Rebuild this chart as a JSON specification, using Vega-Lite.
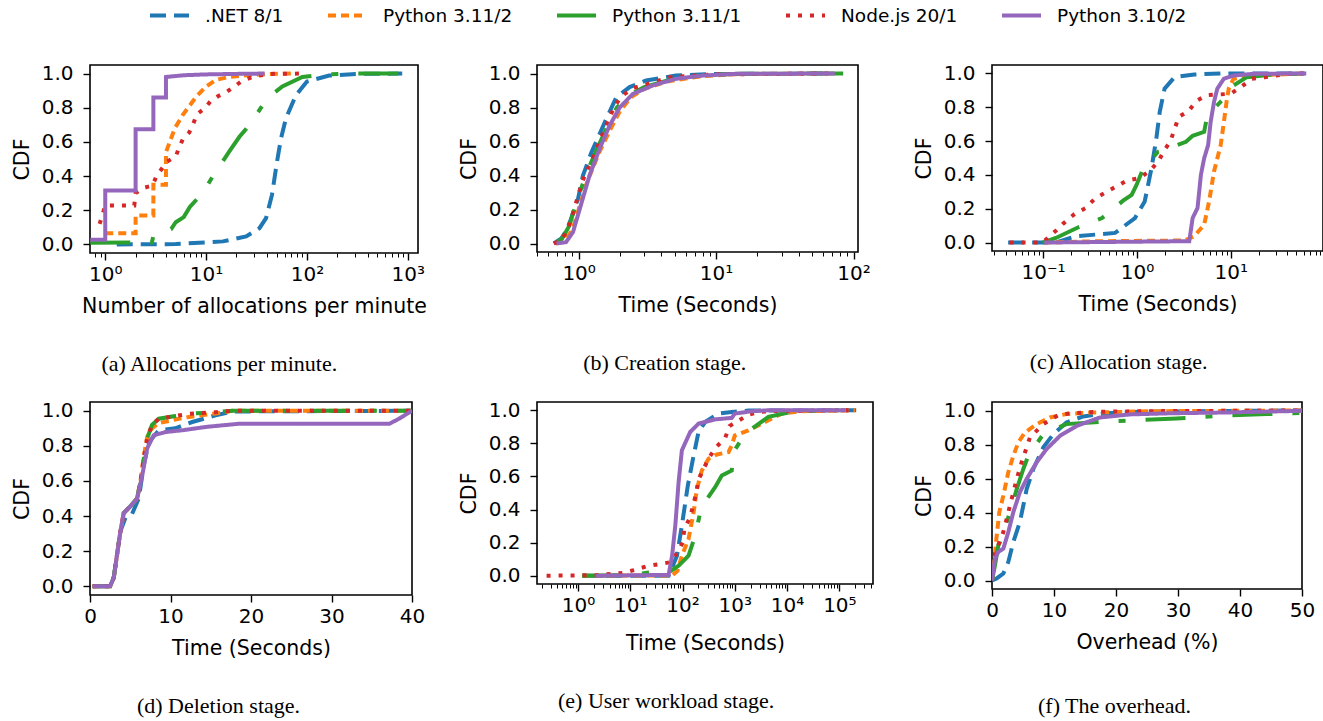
{
"$schema": "https://vega.github.io/schema/vega-lite/v6.json",
"background": "white",
"padding": {"left": 11, "top": -6, "right": 0, "bottom": 0},
"columns": 3,
"align": "each",
"bounds": "flush",
"spacing": {"row": 149, "column": 119},
"resolve": {"scale": {"x": "independent", "y": "independent"}},
"data": {"values": [
{"p":"a","s":".NET 8/1","x":1.3,"y":0},{"p":"a","s":".NET 8/1","x":5,"y":0.002},{"p":"a","s":".NET 8/1","x":14.7,"y":0.018},{"p":"a","s":".NET 8/1","x":25,"y":0.047},{"p":"a","s":".NET 8/1","x":33.8,"y":0.095},{"p":"a","s":".NET 8/1","x":39.3,"y":0.154},{"p":"a","s":".NET 8/1","x":45,"y":0.29},{"p":"a","s":".NET 8/1","x":50.5,"y":0.485},{"p":"a","s":".NET 8/1","x":55.3,"y":0.62},{"p":"a","s":".NET 8/1","x":62,"y":0.739},{"p":"a","s":".NET 8/1","x":78,"y":0.875},{"p":"a","s":".NET 8/1","x":100,"y":0.953},{"p":"a","s":".NET 8/1","x":166,"y":0.988},{"p":"a","s":".NET 8/1","x":305,"y":0.998},{"p":"a","s":".NET 8/1","x":880,"y":1},
{"p":"a","s":"Python 3.11/2","x":1,"y":0.065},{"p":"a","s":"Python 3.11/2","x":2,"y":0.065},{"p":"a","s":"Python 3.11/2","x":2,"y":0.17},{"p":"a","s":"Python 3.11/2","x":3,"y":0.17},{"p":"a","s":"Python 3.11/2","x":3,"y":0.35},{"p":"a","s":"Python 3.11/2","x":4,"y":0.35},{"p":"a","s":"Python 3.11/2","x":4,"y":0.54},{"p":"a","s":"Python 3.11/2","x":4.9,"y":0.68},{"p":"a","s":"Python 3.11/2","x":5.9,"y":0.76},{"p":"a","s":"Python 3.11/2","x":8,"y":0.865},{"p":"a","s":"Python 3.11/2","x":10,"y":0.924},{"p":"a","s":"Python 3.11/2","x":12.5,"y":0.963},{"p":"a","s":"Python 3.11/2","x":17,"y":0.98},{"p":"a","s":"Python 3.11/2","x":25,"y":0.99},{"p":"a","s":"Python 3.11/2","x":40,"y":0.997},{"p":"a","s":"Python 3.11/2","x":73,"y":1},
{"p":"a","s":"Python 3.11/1","x":0.71,"y":0.01},{"p":"a","s":"Python 3.11/1","x":2.9,"y":0.012},{"p":"a","s":"Python 3.11/1","x":3,"y":0.05},{"p":"a","s":"Python 3.11/1","x":4.5,"y":0.09},{"p":"a","s":"Python 3.11/1","x":5,"y":0.13},{"p":"a","s":"Python 3.11/1","x":6,"y":0.16},{"p":"a","s":"Python 3.11/1","x":6.9,"y":0.22},{"p":"a","s":"Python 3.11/1","x":9.2,"y":0.3},{"p":"a","s":"Python 3.11/1","x":11.7,"y":0.4},{"p":"a","s":"Python 3.11/1","x":14,"y":0.47},{"p":"a","s":"Python 3.11/1","x":17,"y":0.544},{"p":"a","s":"Python 3.11/1","x":21.4,"y":0.63},{"p":"a","s":"Python 3.11/1","x":27.9,"y":0.71},{"p":"a","s":"Python 3.11/1","x":35,"y":0.8},{"p":"a","s":"Python 3.11/1","x":42.4,"y":0.866},{"p":"a","s":"Python 3.11/1","x":57,"y":0.924},{"p":"a","s":"Python 3.11/1","x":90,"y":0.98},{"p":"a","s":"Python 3.11/1","x":150,"y":0.995},{"p":"a","s":"Python 3.11/1","x":300,"y":1},{"p":"a","s":"Python 3.11/1","x":880,"y":1},
{"p":"a","s":"Node.js 20/1","x":0.88,"y":0.12},{"p":"a","s":"Node.js 20/1","x":1,"y":0.228},{"p":"a","s":"Node.js 20/1","x":1.94,"y":0.228},{"p":"a","s":"Node.js 20/1","x":2,"y":0.3},{"p":"a","s":"Node.js 20/1","x":2.37,"y":0.33},{"p":"a","s":"Node.js 20/1","x":2.94,"y":0.345},{"p":"a","s":"Node.js 20/1","x":3.22,"y":0.4},{"p":"a","s":"Node.js 20/1","x":4.1,"y":0.485},{"p":"a","s":"Node.js 20/1","x":5,"y":0.515},{"p":"a","s":"Node.js 20/1","x":5.4,"y":0.567},{"p":"a","s":"Node.js 20/1","x":5.9,"y":0.618},{"p":"a","s":"Node.js 20/1","x":6.8,"y":0.655},{"p":"a","s":"Node.js 20/1","x":7.5,"y":0.71},{"p":"a","s":"Node.js 20/1","x":8.1,"y":0.762},{"p":"a","s":"Node.js 20/1","x":9.7,"y":0.797},{"p":"a","s":"Node.js 20/1","x":11,"y":0.836},{"p":"a","s":"Node.js 20/1","x":13.1,"y":0.867},{"p":"a","s":"Node.js 20/1","x":15.8,"y":0.89},{"p":"a","s":"Node.js 20/1","x":19.1,"y":0.924},{"p":"a","s":"Node.js 20/1","x":22.2,"y":0.953},{"p":"a","s":"Node.js 20/1","x":30,"y":0.985},{"p":"a","s":"Node.js 20/1","x":44,"y":0.998},{"p":"a","s":"Node.js 20/1","x":100,"y":1},
{"p":"a","s":"Python 3.10/2","x":0.71,"y":0.027},{"p":"a","s":"Python 3.10/2","x":1,"y":0.027},{"p":"a","s":"Python 3.10/2","x":1,"y":0.316},{"p":"a","s":"Python 3.10/2","x":2,"y":0.316},{"p":"a","s":"Python 3.10/2","x":2,"y":0.674},{"p":"a","s":"Python 3.10/2","x":3,"y":0.674},{"p":"a","s":"Python 3.10/2","x":3,"y":0.86},{"p":"a","s":"Python 3.10/2","x":4,"y":0.86},{"p":"a","s":"Python 3.10/2","x":4,"y":0.98},{"p":"a","s":"Python 3.10/2","x":6,"y":0.99},{"p":"a","s":"Python 3.10/2","x":10,"y":0.995},{"p":"a","s":"Python 3.10/2","x":20,"y":0.998},{"p":"a","s":"Python 3.10/2","x":38,"y":1},

{"p":"b","s":".NET 8/1","x":0.66,"y":0},{"p":"b","s":".NET 8/1","x":0.75,"y":0.03},{"p":"b","s":".NET 8/1","x":0.82,"y":0.08},{"p":"b","s":".NET 8/1","x":0.88,"y":0.145},{"p":"b","s":".NET 8/1","x":0.99,"y":0.263},{"p":"b","s":".NET 8/1","x":1.075,"y":0.4},{"p":"b","s":".NET 8/1","x":1.24,"y":0.537},{"p":"b","s":".NET 8/1","x":1.59,"y":0.733},{"p":"b","s":".NET 8/1","x":1.88,"y":0.86},{"p":"b","s":".NET 8/1","x":2.35,"y":0.92},{"p":"b","s":".NET 8/1","x":3.1,"y":0.959},{"p":"b","s":".NET 8/1","x":5.1,"y":0.988},{"p":"b","s":".NET 8/1","x":9,"y":0.997},{"p":"b","s":".NET 8/1","x":60,"y":1},
{"p":"b","s":"Python 3.11/2","x":0.68,"y":0},{"p":"b","s":"Python 3.11/2","x":0.8,"y":0.02},{"p":"b","s":"Python 3.11/2","x":0.9,"y":0.08},{"p":"b","s":"Python 3.11/2","x":1,"y":0.2},{"p":"b","s":"Python 3.11/2","x":1.15,"y":0.36},{"p":"b","s":"Python 3.11/2","x":1.4,"y":0.53},{"p":"b","s":"Python 3.11/2","x":1.7,"y":0.67},{"p":"b","s":"Python 3.11/2","x":2,"y":0.78},{"p":"b","s":"Python 3.11/2","x":2.4,"y":0.86},{"p":"b","s":"Python 3.11/2","x":3,"y":0.91},{"p":"b","s":"Python 3.11/2","x":4.5,"y":0.955},{"p":"b","s":"Python 3.11/2","x":8,"y":0.985},{"p":"b","s":"Python 3.11/2","x":15,"y":0.997},{"p":"b","s":"Python 3.11/2","x":60,"y":1},
{"p":"b","s":"Python 3.11/1","x":0.68,"y":0},{"p":"b","s":"Python 3.11/1","x":0.76,"y":0.03},{"p":"b","s":"Python 3.11/1","x":0.85,"y":0.1},{"p":"b","s":"Python 3.11/1","x":0.93,"y":0.2},{"p":"b","s":"Python 3.11/1","x":1.05,"y":0.33},{"p":"b","s":"Python 3.11/1","x":1.15,"y":0.42},{"p":"b","s":"Python 3.11/1","x":1.35,"y":0.55},{"p":"b","s":"Python 3.11/1","x":1.6,"y":0.68},{"p":"b","s":"Python 3.11/1","x":1.9,"y":0.8},{"p":"b","s":"Python 3.11/1","x":2.3,"y":0.87},{"p":"b","s":"Python 3.11/1","x":3,"y":0.92},{"p":"b","s":"Python 3.11/1","x":4.5,"y":0.96},{"p":"b","s":"Python 3.11/1","x":8,"y":0.99},{"p":"b","s":"Python 3.11/1","x":15,"y":0.998},{"p":"b","s":"Python 3.11/1","x":84,"y":1},
{"p":"b","s":"Node.js 20/1","x":0.66,"y":0},{"p":"b","s":"Node.js 20/1","x":0.75,"y":0.02},{"p":"b","s":"Node.js 20/1","x":0.83,"y":0.08},{"p":"b","s":"Node.js 20/1","x":0.91,"y":0.18},{"p":"b","s":"Node.js 20/1","x":1.03,"y":0.325},{"p":"b","s":"Node.js 20/1","x":1.1,"y":0.394},{"p":"b","s":"Node.js 20/1","x":1.33,"y":0.537},{"p":"b","s":"Node.js 20/1","x":1.42,"y":0.6},{"p":"b","s":"Node.js 20/1","x":1.55,"y":0.675},{"p":"b","s":"Node.js 20/1","x":1.83,"y":0.81},{"p":"b","s":"Node.js 20/1","x":2.08,"y":0.87},{"p":"b","s":"Node.js 20/1","x":2.48,"y":0.914},{"p":"b","s":"Node.js 20/1","x":3.02,"y":0.933},{"p":"b","s":"Node.js 20/1","x":4.6,"y":0.978},{"p":"b","s":"Node.js 20/1","x":10,"y":0.995},{"p":"b","s":"Node.js 20/1","x":70,"y":1},
{"p":"b","s":"Python 3.10/2","x":0.69,"y":0},{"p":"b","s":"Python 3.10/2","x":0.81,"y":0.008},{"p":"b","s":"Python 3.10/2","x":0.91,"y":0.067},{"p":"b","s":"Python 3.10/2","x":1.02,"y":0.204},{"p":"b","s":"Python 3.10/2","x":1.2,"y":0.4},{"p":"b","s":"Python 3.10/2","x":1.42,"y":0.557},{"p":"b","s":"Python 3.10/2","x":1.68,"y":0.694},{"p":"b","s":"Python 3.10/2","x":1.99,"y":0.8},{"p":"b","s":"Python 3.10/2","x":2.48,"y":0.88},{"p":"b","s":"Python 3.10/2","x":3.47,"y":0.93},{"p":"b","s":"Python 3.10/2","x":5.1,"y":0.969},{"p":"b","s":"Python 3.10/2","x":8,"y":0.988},{"p":"b","s":"Python 3.10/2","x":14,"y":0.998},{"p":"b","s":"Python 3.10/2","x":73,"y":1},

{"p":"c","s":".NET 8/1","x":0.0425,"y":0},{"p":"c","s":".NET 8/1","x":0.137,"y":0},{"p":"c","s":".NET 8/1","x":0.222,"y":0.037},{"p":"c","s":".NET 8/1","x":0.586,"y":0.057},{"p":"c","s":".NET 8/1","x":0.953,"y":0.145},{"p":"c","s":".NET 8/1","x":1.21,"y":0.243},{"p":"c","s":".NET 8/1","x":1.43,"y":0.44},{"p":"c","s":".NET 8/1","x":1.61,"y":0.616},{"p":"c","s":".NET 8/1","x":1.75,"y":0.773},{"p":"c","s":".NET 8/1","x":1.97,"y":0.91},{"p":"c","s":".NET 8/1","x":2.51,"y":0.978},{"p":"c","s":".NET 8/1","x":4.08,"y":0.994},{"p":"c","s":".NET 8/1","x":7.8,"y":1},{"p":"c","s":".NET 8/1","x":61,"y":1},
{"p":"c","s":"Python 3.11/2","x":0.1,"y":0},{"p":"c","s":"Python 3.11/2","x":0.4,"y":0.008},{"p":"c","s":"Python 3.11/2","x":3.2,"y":0.012},{"p":"c","s":"Python 3.11/2","x":4.08,"y":0.037},{"p":"c","s":"Python 3.11/2","x":5.2,"y":0.106},{"p":"c","s":"Python 3.11/2","x":5.87,"y":0.243},{"p":"c","s":"Python 3.11/2","x":6.62,"y":0.42},{"p":"c","s":"Python 3.11/2","x":7.8,"y":0.576},{"p":"c","s":"Python 3.11/2","x":8.44,"y":0.714},{"p":"c","s":"Python 3.11/2","x":9,"y":0.831},{"p":"c","s":"Python 3.11/2","x":9.5,"y":0.91},{"p":"c","s":"Python 3.11/2","x":10.7,"y":0.969},{"p":"c","s":"Python 3.11/2","x":17.5,"y":0.988},{"p":"c","s":"Python 3.11/2","x":61,"y":1},
{"p":"c","s":"Python 3.11/1","x":0.099,"y":0},{"p":"c","s":"Python 3.11/1","x":0.137,"y":0.027},{"p":"c","s":"Python 3.11/1","x":0.241,"y":0.092},{"p":"c","s":"Python 3.11/1","x":0.425,"y":0.145},{"p":"c","s":"Python 3.11/1","x":0.718,"y":0.249},{"p":"c","s":"Python 3.11/1","x":0.879,"y":0.282},{"p":"c","s":"Python 3.11/1","x":0.99,"y":0.341},{"p":"c","s":"Python 3.11/1","x":1.17,"y":0.44},{"p":"c","s":"Python 3.11/1","x":1.68,"y":0.537},{"p":"c","s":"Python 3.11/1","x":1.97,"y":0.547},{"p":"c","s":"Python 3.11/1","x":3.33,"y":0.596},{"p":"c","s":"Python 3.11/1","x":3.92,"y":0.631},{"p":"c","s":"Python 3.11/1","x":5.2,"y":0.655},{"p":"c","s":"Python 3.11/1","x":5.63,"y":0.753},{"p":"c","s":"Python 3.11/1","x":8.4,"y":0.851},{"p":"c","s":"Python 3.11/1","x":10.7,"y":0.929},{"p":"c","s":"Python 3.11/1","x":14.8,"y":0.978},{"p":"c","s":"Python 3.11/1","x":26,"y":0.992},{"p":"c","s":"Python 3.11/1","x":60,"y":1},
{"p":"c","s":"Node.js 20/1","x":0.044,"y":0},{"p":"c","s":"Node.js 20/1","x":0.099,"y":0},{"p":"c","s":"Node.js 20/1","x":0.137,"y":0.07},{"p":"c","s":"Node.js 20/1","x":0.164,"y":0.112},{"p":"c","s":"Node.js 20/1","x":0.217,"y":0.169},{"p":"c","s":"Node.js 20/1","x":0.284,"y":0.204},{"p":"c","s":"Node.js 20/1","x":0.356,"y":0.259},{"p":"c","s":"Node.js 20/1","x":0.46,"y":0.296},{"p":"c","s":"Node.js 20/1","x":0.6,"y":0.331},{"p":"c","s":"Node.js 20/1","x":0.78,"y":0.367},{"p":"c","s":"Node.js 20/1","x":1.06,"y":0.38},{"p":"c","s":"Node.js 20/1","x":1.37,"y":0.424},{"p":"c","s":"Node.js 20/1","x":1.68,"y":0.478},{"p":"c","s":"Node.js 20/1","x":1.92,"y":0.537},{"p":"c","s":"Node.js 20/1","x":2.28,"y":0.602},{"p":"c","s":"Node.js 20/1","x":2.51,"y":0.669},{"p":"c","s":"Node.js 20/1","x":2.79,"y":0.743},{"p":"c","s":"Node.js 20/1","x":3.56,"y":0.778},{"p":"c","s":"Node.js 20/1","x":4.25,"y":0.835},{"p":"c","s":"Node.js 20/1","x":5.5,"y":0.871},{"p":"c","s":"Node.js 20/1","x":10,"y":0.88},{"p":"c","s":"Node.js 20/1","x":13.2,"y":0.925},{"p":"c","s":"Node.js 20/1","x":16.8,"y":0.969},{"p":"c","s":"Node.js 20/1","x":23,"y":0.978},{"p":"c","s":"Node.js 20/1","x":40,"y":0.998},{"p":"c","s":"Node.js 20/1","x":60,"y":1},
{"p":"c","s":"Python 3.10/2","x":0.103,"y":0},{"p":"c","s":"Python 3.10/2","x":3.61,"y":0.008},{"p":"c","s":"Python 3.10/2","x":3.92,"y":0.145},{"p":"c","s":"Python 3.10/2","x":4.42,"y":0.204},{"p":"c","s":"Python 3.10/2","x":4.8,"y":0.4},{"p":"c","s":"Python 3.10/2","x":5.2,"y":0.498},{"p":"c","s":"Python 3.10/2","x":5.73,"y":0.576},{"p":"c","s":"Python 3.10/2","x":6.1,"y":0.714},{"p":"c","s":"Python 3.10/2","x":6.62,"y":0.831},{"p":"c","s":"Python 3.10/2","x":7.18,"y":0.91},{"p":"c","s":"Python 3.10/2","x":8.44,"y":0.969},{"p":"c","s":"Python 3.10/2","x":10.7,"y":0.988},{"p":"c","s":"Python 3.10/2","x":17.5,"y":0.998},{"p":"c","s":"Python 3.10/2","x":63.6,"y":1},

{"p":"d","s":".NET 8/1","x":0.33,"y":0},{"p":"d","s":".NET 8/1","x":2.5,"y":0},{"p":"d","s":".NET 8/1","x":2.95,"y":0.049},{"p":"d","s":".NET 8/1","x":3.36,"y":0.18},{"p":"d","s":".NET 8/1","x":3.78,"y":0.313},{"p":"d","s":".NET 8/1","x":4.4,"y":0.39},{"p":"d","s":".NET 8/1","x":5.2,"y":0.41},{"p":"d","s":".NET 8/1","x":6.06,"y":0.5},{"p":"d","s":".NET 8/1","x":6.68,"y":0.69},{"p":"d","s":".NET 8/1","x":7.3,"y":0.82},{"p":"d","s":".NET 8/1","x":8.55,"y":0.889},{"p":"d","s":".NET 8/1","x":10.6,"y":0.9},{"p":"d","s":".NET 8/1","x":12.7,"y":0.936},{"p":"d","s":".NET 8/1","x":15.6,"y":0.974},{"p":"d","s":".NET 8/1","x":17.7,"y":0.996},{"p":"d","s":".NET 8/1","x":39.9,"y":1},
{"p":"d","s":"Python 3.11/2","x":0.33,"y":0},{"p":"d","s":"Python 3.11/2","x":2.5,"y":0},{"p":"d","s":"Python 3.11/2","x":2.95,"y":0.049},{"p":"d","s":"Python 3.11/2","x":3.36,"y":0.18},{"p":"d","s":"Python 3.11/2","x":3.78,"y":0.313},{"p":"d","s":"Python 3.11/2","x":4.19,"y":0.417},{"p":"d","s":"Python 3.11/2","x":5,"y":0.455},{"p":"d","s":"Python 3.11/2","x":5.85,"y":0.5},{"p":"d","s":"Python 3.11/2","x":6.27,"y":0.6},{"p":"d","s":"Python 3.11/2","x":6.68,"y":0.74},{"p":"d","s":"Python 3.11/2","x":7.1,"y":0.85},{"p":"d","s":"Python 3.11/2","x":7.7,"y":0.9},{"p":"d","s":"Python 3.11/2","x":8.55,"y":0.93},{"p":"d","s":"Python 3.11/2","x":10.6,"y":0.95},{"p":"d","s":"Python 3.11/2","x":12.3,"y":0.965},{"p":"d","s":"Python 3.11/2","x":15.6,"y":0.985},{"p":"d","s":"Python 3.11/2","x":17.7,"y":1},{"p":"d","s":"Python 3.11/2","x":39.9,"y":1},
{"p":"d","s":"Python 3.11/1","x":0.33,"y":0},{"p":"d","s":"Python 3.11/1","x":2.5,"y":0},{"p":"d","s":"Python 3.11/1","x":2.95,"y":0.049},{"p":"d","s":"Python 3.11/1","x":3.36,"y":0.18},{"p":"d","s":"Python 3.11/1","x":3.78,"y":0.313},{"p":"d","s":"Python 3.11/1","x":4.19,"y":0.417},{"p":"d","s":"Python 3.11/1","x":5,"y":0.455},{"p":"d","s":"Python 3.11/1","x":5.85,"y":0.5},{"p":"d","s":"Python 3.11/1","x":6.27,"y":0.596},{"p":"d","s":"Python 3.11/1","x":6.68,"y":0.728},{"p":"d","s":"Python 3.11/1","x":7.1,"y":0.842},{"p":"d","s":"Python 3.11/1","x":7.7,"y":0.92},{"p":"d","s":"Python 3.11/1","x":8.55,"y":0.955},{"p":"d","s":"Python 3.11/1","x":10.6,"y":0.97},{"p":"d","s":"Python 3.11/1","x":12.3,"y":0.983},{"p":"d","s":"Python 3.11/1","x":15.6,"y":0.992},{"p":"d","s":"Python 3.11/1","x":17.7,"y":1},{"p":"d","s":"Python 3.11/1","x":39.9,"y":1},
{"p":"d","s":"Node.js 20/1","x":0.33,"y":0},{"p":"d","s":"Node.js 20/1","x":2.5,"y":0},{"p":"d","s":"Node.js 20/1","x":2.95,"y":0.049},{"p":"d","s":"Node.js 20/1","x":3.36,"y":0.18},{"p":"d","s":"Node.js 20/1","x":3.78,"y":0.313},{"p":"d","s":"Node.js 20/1","x":4.19,"y":0.417},{"p":"d","s":"Node.js 20/1","x":5,"y":0.455},{"p":"d","s":"Node.js 20/1","x":5.85,"y":0.5},{"p":"d","s":"Node.js 20/1","x":6.27,"y":0.596},{"p":"d","s":"Node.js 20/1","x":6.68,"y":0.728},{"p":"d","s":"Node.js 20/1","x":7.1,"y":0.842},{"p":"d","s":"Node.js 20/1","x":7.7,"y":0.92},{"p":"d","s":"Node.js 20/1","x":8.55,"y":0.955},{"p":"d","s":"Node.js 20/1","x":10.6,"y":0.97},{"p":"d","s":"Node.js 20/1","x":12.3,"y":0.983},{"p":"d","s":"Node.js 20/1","x":15.6,"y":0.992},{"p":"d","s":"Node.js 20/1","x":17.7,"y":1},{"p":"d","s":"Node.js 20/1","x":39.9,"y":1},
{"p":"d","s":"Python 3.10/2","x":0.33,"y":0},{"p":"d","s":"Python 3.10/2","x":2.5,"y":0},{"p":"d","s":"Python 3.10/2","x":2.95,"y":0.049},{"p":"d","s":"Python 3.10/2","x":3.36,"y":0.18},{"p":"d","s":"Python 3.10/2","x":3.78,"y":0.313},{"p":"d","s":"Python 3.10/2","x":4.19,"y":0.417},{"p":"d","s":"Python 3.10/2","x":5,"y":0.455},{"p":"d","s":"Python 3.10/2","x":5.85,"y":0.5},{"p":"d","s":"Python 3.10/2","x":6.5,"y":0.634},{"p":"d","s":"Python 3.10/2","x":7.1,"y":0.785},{"p":"d","s":"Python 3.10/2","x":7.9,"y":0.86},{"p":"d","s":"Python 3.10/2","x":9.4,"y":0.879},{"p":"d","s":"Python 3.10/2","x":11.5,"y":0.889},{"p":"d","s":"Python 3.10/2","x":14.4,"y":0.908},{"p":"d","s":"Python 3.10/2","x":18.5,"y":0.926},{"p":"d","s":"Python 3.10/2","x":37.2,"y":0.926},{"p":"d","s":"Python 3.10/2","x":38.4,"y":0.955},{"p":"d","s":"Python 3.10/2","x":40,"y":1},

{"p":"e","s":".NET 8/1","x":1.2,"y":0},{"p":"e","s":".NET 8/1","x":54,"y":0},{"p":"e","s":".NET 8/1","x":78,"y":0.12},{"p":"e","s":".NET 8/1","x":97,"y":0.303},{"p":"e","s":".NET 8/1","x":126,"y":0.545},{"p":"e","s":".NET 8/1","x":163,"y":0.727},{"p":"e","s":".NET 8/1","x":202,"y":0.869},{"p":"e","s":".NET 8/1","x":270,"y":0.929},{"p":"e","s":".NET 8/1","x":488,"y":0.98},{"p":"e","s":".NET 8/1","x":873,"y":0.99},{"p":"e","s":".NET 8/1","x":1820,"y":0.998},{"p":"e","s":".NET 8/1","x":210000,"y":1},
{"p":"e","s":"Python 3.11/2","x":1.2,"y":0},{"p":"e","s":"Python 3.11/2","x":63,"y":0.002},{"p":"e","s":"Python 3.11/2","x":80,"y":0.03},{"p":"e","s":"Python 3.11/2","x":97,"y":0.12},{"p":"e","s":"Python 3.11/2","x":130,"y":0.222},{"p":"e","s":"Python 3.11/2","x":163,"y":0.384},{"p":"e","s":"Python 3.11/2","x":188,"y":0.525},{"p":"e","s":"Python 3.11/2","x":234,"y":0.636},{"p":"e","s":"Python 3.11/2","x":314,"y":0.707},{"p":"e","s":"Python 3.11/2","x":453,"y":0.733},{"p":"e","s":"Python 3.11/2","x":758,"y":0.747},{"p":"e","s":"Python 3.11/2","x":873,"y":0.788},{"p":"e","s":"Python 3.11/2","x":1000,"y":0.848},{"p":"e","s":"Python 3.11/2","x":1820,"y":0.879},{"p":"e","s":"Python 3.11/2","x":3800,"y":0.929},{"p":"e","s":"Python 3.11/2","x":7900,"y":0.98},{"p":"e","s":"Python 3.11/2","x":19000,"y":0.994},{"p":"e","s":"Python 3.11/2","x":200000,"y":1},
{"p":"e","s":"Python 3.11/1","x":1.2,"y":0},{"p":"e","s":"Python 3.11/1","x":10,"y":0.004},{"p":"e","s":"Python 3.11/1","x":22.4,"y":0.02},{"p":"e","s":"Python 3.11/1","x":60,"y":0.03},{"p":"e","s":"Python 3.11/1","x":84,"y":0.06},{"p":"e","s":"Python 3.11/1","x":130,"y":0.121},{"p":"e","s":"Python 3.11/1","x":174,"y":0.242},{"p":"e","s":"Python 3.11/1","x":218,"y":0.384},{"p":"e","s":"Python 3.11/1","x":252,"y":0.434},{"p":"e","s":"Python 3.11/1","x":420,"y":0.535},{"p":"e","s":"Python 3.11/1","x":563,"y":0.606},{"p":"e","s":"Python 3.11/1","x":873,"y":0.636},{"p":"e","s":"Python 3.11/1","x":937,"y":0.747},{"p":"e","s":"Python 3.11/1","x":1580,"y":0.859},{"p":"e","s":"Python 3.11/1","x":4380,"y":0.96},{"p":"e","s":"Python 3.11/1","x":10600,"y":0.986},{"p":"e","s":"Python 3.11/1","x":25700,"y":0.996},{"p":"e","s":"Python 3.11/1","x":100000,"y":1},
{"p":"e","s":"Node.js 20/1","x":0.25,"y":0},{"p":"e","s":"Node.js 20/1","x":2.1,"y":0.003},{"p":"e","s":"Node.js 20/1","x":6.9,"y":0.016},{"p":"e","s":"Node.js 20/1","x":12.5,"y":0.036},{"p":"e","s":"Node.js 20/1","x":21.8,"y":0.06},{"p":"e","s":"Node.js 20/1","x":37.4,"y":0.071},{"p":"e","s":"Node.js 20/1","x":55,"y":0.08},{"p":"e","s":"Node.js 20/1","x":80,"y":0.14},{"p":"e","s":"Node.js 20/1","x":100,"y":0.2},{"p":"e","s":"Node.js 20/1","x":109,"y":0.287},{"p":"e","s":"Node.js 20/1","x":140,"y":0.354},{"p":"e","s":"Node.js 20/1","x":182,"y":0.499},{"p":"e","s":"Node.js 20/1","x":202,"y":0.582},{"p":"e","s":"Node.js 20/1","x":252,"y":0.646},{"p":"e","s":"Node.js 20/1","x":330,"y":0.72},{"p":"e","s":"Node.js 20/1","x":440,"y":0.778},{"p":"e","s":"Node.js 20/1","x":653,"y":0.832},{"p":"e","s":"Node.js 20/1","x":790,"y":0.905},{"p":"e","s":"Node.js 20/1","x":1210,"y":0.939},{"p":"e","s":"Node.js 20/1","x":1820,"y":0.974},{"p":"e","s":"Node.js 20/1","x":3030,"y":0.99},{"p":"e","s":"Node.js 20/1","x":5900,"y":0.996},{"p":"e","s":"Node.js 20/1","x":150000,"y":1},
{"p":"e","s":"Python 3.10/2","x":2.15,"y":0},{"p":"e","s":"Python 3.10/2","x":54,"y":0.005},{"p":"e","s":"Python 3.10/2","x":63,"y":0.12},{"p":"e","s":"Python 3.10/2","x":72.6,"y":0.303},{"p":"e","s":"Python 3.10/2","x":84,"y":0.566},{"p":"e","s":"Python 3.10/2","x":97,"y":0.758},{"p":"e","s":"Python 3.10/2","x":140,"y":0.869},{"p":"e","s":"Python 3.10/2","x":202,"y":0.919},{"p":"e","s":"Python 3.10/2","x":420,"y":0.945},{"p":"e","s":"Python 3.10/2","x":873,"y":0.954},{"p":"e","s":"Python 3.10/2","x":1000,"y":0.98},{"p":"e","s":"Python 3.10/2","x":2100,"y":0.994},{"p":"e","s":"Python 3.10/2","x":4380,"y":1},{"p":"e","s":"Python 3.10/2","x":130000,"y":1},

{"p":"f","s":".NET 8/1","x":0,"y":0},{"p":"f","s":".NET 8/1","x":0.75,"y":0.012},{"p":"f","s":".NET 8/1","x":1.83,"y":0.041},{"p":"f","s":".NET 8/1","x":2.63,"y":0.109},{"p":"f","s":".NET 8/1","x":3.44,"y":0.227},{"p":"f","s":".NET 8/1","x":4.5,"y":0.344},{"p":"f","s":".NET 8/1","x":5.6,"y":0.539},{"p":"f","s":".NET 8/1","x":6.67,"y":0.656},{"p":"f","s":".NET 8/1","x":8.28,"y":0.783},{"p":"f","s":".NET 8/1","x":9.9,"y":0.861},{"p":"f","s":".NET 8/1","x":12,"y":0.93},{"p":"f","s":".NET 8/1","x":14.7,"y":0.965},{"p":"f","s":".NET 8/1","x":18.5,"y":0.984},{"p":"f","s":".NET 8/1","x":23.9,"y":0.992},{"p":"f","s":".NET 8/1","x":31.9,"y":0.996},{"p":"f","s":".NET 8/1","x":50,"y":1},
{"p":"f","s":"Python 3.11/2","x":0,"y":0},{"p":"f","s":"Python 3.11/2","x":0.32,"y":0.09},{"p":"f","s":"Python 3.11/2","x":0.65,"y":0.227},{"p":"f","s":"Python 3.11/2","x":1.18,"y":0.402},{"p":"f","s":"Python 3.11/2","x":1.83,"y":0.5},{"p":"f","s":"Python 3.11/2","x":2.63,"y":0.637},{"p":"f","s":"Python 3.11/2","x":3.44,"y":0.734},{"p":"f","s":"Python 3.11/2","x":4.25,"y":0.8125},{"p":"f","s":"Python 3.11/2","x":5.32,"y":0.871},{"p":"f","s":"Python 3.11/2","x":7.2,"y":0.92},{"p":"f","s":"Python 3.11/2","x":9.35,"y":0.959},{"p":"f","s":"Python 3.11/2","x":12,"y":0.979},{"p":"f","s":"Python 3.11/2","x":15.8,"y":0.988},{"p":"f","s":"Python 3.11/2","x":26.6,"y":0.996},{"p":"f","s":"Python 3.11/2","x":50,"y":1},
{"p":"f","s":"Python 3.11/1","x":0,"y":0},{"p":"f","s":"Python 3.11/1","x":0.48,"y":0.09},{"p":"f","s":"Python 3.11/1","x":1.02,"y":0.207},{"p":"f","s":"Python 3.11/1","x":1.29,"y":0.227},{"p":"f","s":"Python 3.11/1","x":2.9,"y":0.402},{"p":"f","s":"Python 3.11/1","x":4,"y":0.539},{"p":"f","s":"Python 3.11/1","x":5.05,"y":0.656},{"p":"f","s":"Python 3.11/1","x":5.86,"y":0.734},{"p":"f","s":"Python 3.11/1","x":8.28,"y":0.861},{"p":"f","s":"Python 3.11/1","x":12,"y":0.92},{"p":"f","s":"Python 3.11/1","x":18,"y":0.934},{"p":"f","s":"Python 3.11/1","x":22.3,"y":0.941},{"p":"f","s":"Python 3.11/1","x":29.8,"y":0.953},{"p":"f","s":"Python 3.11/1","x":36.8,"y":0.969},{"p":"f","s":"Python 3.11/1","x":44.3,"y":0.979},{"p":"f","s":"Python 3.11/1","x":50,"y":0.985},
{"p":"f","s":"Node.js 20/1","x":0,"y":0},{"p":"f","s":"Node.js 20/1","x":0.48,"y":0.158},{"p":"f","s":"Node.js 20/1","x":1.83,"y":0.285},{"p":"f","s":"Node.js 20/1","x":3.17,"y":0.48},{"p":"f","s":"Node.js 20/1","x":4,"y":0.598},{"p":"f","s":"Node.js 20/1","x":4.78,"y":0.695},{"p":"f","s":"Node.js 20/1","x":6.13,"y":0.842},{"p":"f","s":"Node.js 20/1","x":8.28,"y":0.92},{"p":"f","s":"Node.js 20/1","x":10.7,"y":0.973},{"p":"f","s":"Node.js 20/1","x":12.85,"y":0.984},{"p":"f","s":"Node.js 20/1","x":16.9,"y":0.992},{"p":"f","s":"Node.js 20/1","x":24.4,"y":0.996},{"p":"f","s":"Node.js 20/1","x":50,"y":1},
{"p":"f","s":"Python 3.10/2","x":0,"y":0},{"p":"f","s":"Python 3.10/2","x":0.48,"y":0.129},{"p":"f","s":"Python 3.10/2","x":1.02,"y":0.168},{"p":"f","s":"Python 3.10/2","x":1.83,"y":0.1875},{"p":"f","s":"Python 3.10/2","x":2.63,"y":0.285},{"p":"f","s":"Python 3.10/2","x":3.44,"y":0.402},{"p":"f","s":"Python 3.10/2","x":4.5,"y":0.52},{"p":"f","s":"Python 3.10/2","x":5.6,"y":0.598},{"p":"f","s":"Python 3.10/2","x":7.2,"y":0.695},{"p":"f","s":"Python 3.10/2","x":8.8,"y":0.773},{"p":"f","s":"Python 3.10/2","x":11,"y":0.852},{"p":"f","s":"Python 3.10/2","x":13.7,"y":0.91},{"p":"f","s":"Python 3.10/2","x":17.4,"y":0.959},{"p":"f","s":"Python 3.10/2","x":22.3,"y":0.977},{"p":"f","s":"Python 3.10/2","x":29.2,"y":0.984},{"p":"f","s":"Python 3.10/2","x":37.3,"y":0.988},{"p":"f","s":"Python 3.10/2","x":50,"y":0.998}
]},
"concat": [
{"width": 328, "height": 188, "transform": [{"filter": "datum.p == 'a'"}], "title": "(a) Allocations per minute.",
 "mark": {"type": "line", "clip": true},
 "encoding": {
  "x": {"field": "x", "type": "quantitative", "scale": {"type": "log", "domain": [0.706, 1262], "nice": false},
        "axis": {"title": "Number of allocations per minute", "values": [0.8,0.9,1,2,3,4,5,6,7,8,9,10,20,30,40,50,60,70,80,90,100,200,300,400,500,600,700,800,900,1000],
                 "labelExpr": "abs(log(datum.value)/LN10 - round(log(datum.value)/LN10)) < 0.001 ? '10' + {'-1':'⁻¹','0':'⁰','1':'¹','2':'²','3':'³','4':'⁴','5':'⁵'}['' + round(log(datum.value)/LN10)] : ''",
                 "tickSize": {"condition": {"test": "abs(log(datum.value)/LN10 - round(log(datum.value)/LN10)) < 0.001", "value": 7}, "value": 4},
                 "tickWidth": {"condition": {"test": "abs(log(datum.value)/LN10 - round(log(datum.value)/LN10)) < 0.001", "value": 1.4}, "value": 1}}},
  "y": {"field": "y", "type": "quantitative", "scale": {"domain": [-0.05, 1.05], "nice": false, "zero": false}, "axis": {"title": "CDF", "values": [0,0.2,0.4,0.6,0.8,1], "format": ".1f"}},
  "color": {"field": "s", "type": "nominal", "scale": {"domain": [".NET 8/1","Python 3.11/2","Python 3.11/1","Node.js 20/1","Python 3.10/2"], "range": ["#1f77b4","#ff7f0e","#2ca02c","#d62728","#9467bd"]}, "legend": {"title": null, "orient": "none", "legendX": 58, "legendY": -71, "direction": "horizontal", "columns": 5}},
  "strokeDash": {"field": "s", "type": "nominal", "scale": {"domain": [".NET 8/1","Python 3.11/2","Python 3.11/1","Node.js 20/1","Python 3.10/2"], "range": [[16,8],[8,5],[40,20,7,20],[4,8],[1,0]]}, "legend": {"title": null, "orient": "none", "legendX": 58, "legendY": -71, "direction": "horizontal", "columns": 5}},
  "strokeWidth": {"field": "s", "type": "nominal", "scale": {"domain": [".NET 8/1","Python 3.11/2","Python 3.11/1","Node.js 20/1","Python 3.10/2"], "range": [4,4,4,4,5]}, "legend": {"title": null, "orient": "none", "legendX": 58, "legendY": -71, "direction": "horizontal", "columns": 5}},
  "order": [{"field": "x", "type": "quantitative"}, {"field": "y", "type": "quantitative"}]
 }},
{"width": 321, "height": 187, "transform": [{"filter": "datum.p == 'b'"}], "title": "(b) Creation stage.",
 "mark": {"type": "line", "clip": true},
 "encoding": {
  "x": {"field": "x", "type": "quantitative", "scale": {"type": "log", "domain": [0.498, 107.7], "nice": false},
        "axis": {"title": "Time (Seconds)", "values": [0.5,0.6,0.7,0.8,0.9,1,2,3,4,5,6,7,8,9,10,20,30,40,50,60,70,80,90,100],
                 "labelExpr": "abs(log(datum.value)/LN10 - round(log(datum.value)/LN10)) < 0.001 ? '10' + {'-1':'⁻¹','0':'⁰','1':'¹','2':'²','3':'³','4':'⁴','5':'⁵'}['' + round(log(datum.value)/LN10)] : ''",
                 "tickSize": {"condition": {"test": "abs(log(datum.value)/LN10 - round(log(datum.value)/LN10)) < 0.001", "value": 7}, "value": 4},
                 "tickWidth": {"condition": {"test": "abs(log(datum.value)/LN10 - round(log(datum.value)/LN10)) < 0.001", "value": 1.4}, "value": 1}}},
  "y": {"field": "y", "type": "quantitative", "scale": {"domain": [-0.05, 1.05], "nice": false, "zero": false}, "axis": {"title": "CDF", "values": [0,0.2,0.4,0.6,0.8,1], "format": ".1f"}},
  "color": {"field": "s", "type": "nominal", "scale": {"domain": [".NET 8/1","Python 3.11/2","Python 3.11/1","Node.js 20/1","Python 3.10/2"], "range": ["#1f77b4","#ff7f0e","#2ca02c","#d62728","#9467bd"]}},
  "strokeDash": {"field": "s", "type": "nominal", "scale": {"domain": [".NET 8/1","Python 3.11/2","Python 3.11/1","Node.js 20/1","Python 3.10/2"], "range": [[16,8],[8,5],[40,20,7,20],[4,8],[1,0]]}},
  "strokeWidth": {"field": "s", "type": "nominal", "scale": {"domain": [".NET 8/1","Python 3.11/2","Python 3.11/1","Node.js 20/1","Python 3.10/2"], "range": [4,4,4,4,5]}},
  "order": [{"field": "x", "type": "quantitative"}, {"field": "y", "type": "quantitative"}]
 }},
{"width": 331, "height": 186, "transform": [{"filter": "datum.p == 'c'"}], "title": "(c) Allocation stage.",
 "mark": {"type": "line", "clip": true},
 "encoding": {
  "x": {"field": "x", "type": "quantitative", "scale": {"type": "log", "domain": [0.0286, 95.9], "nice": false},
        "axis": {"title": "Time (Seconds)", "values": [0.03,0.04,0.05,0.06,0.07,0.08,0.09,0.1,0.2,0.3,0.4,0.5,0.6,0.7,0.8,0.9,1,2,3,4,5,6,7,8,9,10,20,30,40,50,60,70,80,90],
                 "labelExpr": "abs(log(datum.value)/LN10 - round(log(datum.value)/LN10)) < 0.001 ? '10' + {'-1':'⁻¹','0':'⁰','1':'¹','2':'²','3':'³','4':'⁴','5':'⁵'}['' + round(log(datum.value)/LN10)] : ''",
                 "tickSize": {"condition": {"test": "abs(log(datum.value)/LN10 - round(log(datum.value)/LN10)) < 0.001", "value": 7}, "value": 4},
                 "tickWidth": {"condition": {"test": "abs(log(datum.value)/LN10 - round(log(datum.value)/LN10)) < 0.001", "value": 1.4}, "value": 1}}},
  "y": {"field": "y", "type": "quantitative", "scale": {"domain": [-0.05, 1.05], "nice": false, "zero": false}, "axis": {"title": "CDF", "values": [0,0.2,0.4,0.6,0.8,1], "format": ".1f"}},
  "color": {"field": "s", "type": "nominal", "scale": {"domain": [".NET 8/1","Python 3.11/2","Python 3.11/1","Node.js 20/1","Python 3.10/2"], "range": ["#1f77b4","#ff7f0e","#2ca02c","#d62728","#9467bd"]}},
  "strokeDash": {"field": "s", "type": "nominal", "scale": {"domain": [".NET 8/1","Python 3.11/2","Python 3.11/1","Node.js 20/1","Python 3.10/2"], "range": [[16,8],[8,5],[40,20,7,20],[4,8],[1,0]]}},
  "strokeWidth": {"field": "s", "type": "nominal", "scale": {"domain": [".NET 8/1","Python 3.11/2","Python 3.11/1","Node.js 20/1","Python 3.10/2"], "range": [4,4,4,4,5]}},
  "order": [{"field": "x", "type": "quantitative"}, {"field": "y", "type": "quantitative"}]
 }},
{"width": 322, "height": 193, "transform": [{"filter": "datum.p == 'd'"}], "title": "(d) Deletion stage.",
 "mark": {"type": "line", "clip": true},
 "encoding": {
  "x": {"field": "x", "type": "quantitative", "scale": {"domain": [0, 40], "nice": false}, "axis": {"title": "Time (Seconds)", "values": [0,10,20,30,40], "titlePadding": 12}},
  "y": {"field": "y", "type": "quantitative", "scale": {"domain": [-0.05, 1.05], "nice": false, "zero": false}, "axis": {"title": "CDF", "values": [0,0.2,0.4,0.6,0.8,1], "format": ".1f"}},
  "color": {"field": "s", "type": "nominal", "scale": {"domain": [".NET 8/1","Python 3.11/2","Python 3.11/1","Node.js 20/1","Python 3.10/2"], "range": ["#1f77b4","#ff7f0e","#2ca02c","#d62728","#9467bd"]}},
  "strokeDash": {"field": "s", "type": "nominal", "scale": {"domain": [".NET 8/1","Python 3.11/2","Python 3.11/1","Node.js 20/1","Python 3.10/2"], "range": [[16,8],[8,5],[40,20,7,20],[4,8],[1,0]]}},
  "strokeWidth": {"field": "s", "type": "nominal", "scale": {"domain": [".NET 8/1","Python 3.11/2","Python 3.11/1","Node.js 20/1","Python 3.10/2"], "range": [4,4,4,4,5]}},
  "order": [{"field": "x", "type": "quantitative"}, {"field": "y", "type": "quantitative"}]
 }},
{"width": 336, "height": 182, "transform": [{"filter": "datum.p == 'e'"}], "title": "(e) User workload stage.",
 "mark": {"type": "line", "clip": true},
 "encoding": {
  "x": {"field": "x", "type": "quantitative", "scale": {"type": "log", "domain": [0.164, 440000], "nice": false},
        "axis": {"title": "Time (Seconds)", "titlePadding": 18, "values": [0.2,0.3,0.4,0.5,0.6,0.7,0.8,0.9,1,2,3,4,5,6,7,8,9,10,20,30,40,50,60,70,80,90,100,200,300,400,500,600,700,800,900,1000,2000,3000,4000,5000,6000,7000,8000,9000,10000,20000,30000,40000,50000,60000,70000,80000,90000,100000,200000,300000,400000],
                 "labelExpr": "abs(log(datum.value)/LN10 - round(log(datum.value)/LN10)) < 0.001 ? '10' + {'-1':'⁻¹','0':'⁰','1':'¹','2':'²','3':'³','4':'⁴','5':'⁵'}['' + round(log(datum.value)/LN10)] : ''",
                 "tickSize": {"condition": {"test": "abs(log(datum.value)/LN10 - round(log(datum.value)/LN10)) < 0.001", "value": 7}, "value": 4},
                 "tickWidth": {"condition": {"test": "abs(log(datum.value)/LN10 - round(log(datum.value)/LN10)) < 0.001", "value": 1.4}, "value": 1}}},
  "y": {"field": "y", "type": "quantitative", "scale": {"domain": [-0.05, 1.05], "nice": false, "zero": false}, "axis": {"title": "CDF", "values": [0,0.2,0.4,0.6,0.8,1], "format": ".1f"}},
  "color": {"field": "s", "type": "nominal", "scale": {"domain": [".NET 8/1","Python 3.11/2","Python 3.11/1","Node.js 20/1","Python 3.10/2"], "range": ["#1f77b4","#ff7f0e","#2ca02c","#d62728","#9467bd"]}},
  "strokeDash": {"field": "s", "type": "nominal", "scale": {"domain": [".NET 8/1","Python 3.11/2","Python 3.11/1","Node.js 20/1","Python 3.10/2"], "range": [[16,8],[8,5],[40,20,7,20],[4,8],[1,0]]}},
  "strokeWidth": {"field": "s", "type": "nominal", "scale": {"domain": [".NET 8/1","Python 3.11/2","Python 3.11/1","Node.js 20/1","Python 3.10/2"], "range": [4,4,4,4,5]}},
  "order": [{"field": "x", "type": "quantitative"}, {"field": "y", "type": "quantitative"}]
 }},
{"width": 310, "height": 187, "transform": [{"filter": "datum.p == 'f'"}], "title": {"text": "(f) The overhead.", "offset": 43},
 "mark": {"type": "line", "clip": true},
 "encoding": {
  "x": {"field": "x", "type": "quantitative", "scale": {"domain": [0, 50], "nice": false}, "axis": {"title": "Overhead (%)", "values": [0,10,20,30,40,50], "titlePadding": 12}},
  "y": {"field": "y", "type": "quantitative", "scale": {"domain": [-0.05, 1.05], "nice": false, "zero": false}, "axis": {"title": "CDF", "values": [0,0.2,0.4,0.6,0.8,1], "format": ".1f"}},
  "color": {"field": "s", "type": "nominal", "scale": {"domain": [".NET 8/1","Python 3.11/2","Python 3.11/1","Node.js 20/1","Python 3.10/2"], "range": ["#1f77b4","#ff7f0e","#2ca02c","#d62728","#9467bd"]}},
  "strokeDash": {"field": "s", "type": "nominal", "scale": {"domain": [".NET 8/1","Python 3.11/2","Python 3.11/1","Node.js 20/1","Python 3.10/2"], "range": [[16,8],[8,5],[40,20,7,20],[4,8],[1,0]]}},
  "strokeWidth": {"field": "s", "type": "nominal", "scale": {"domain": [".NET 8/1","Python 3.11/2","Python 3.11/1","Node.js 20/1","Python 3.10/2"], "range": [4,4,4,4,5]}},
  "order": [{"field": "x", "type": "quantitative"}, {"field": "y", "type": "quantitative"}]
 }}
],
"config": {
  "view": {"stroke": "black", "strokeWidth": 1.6},
  "axis": {"labelFont": "DejaVu Sans", "labelFontSize": 20, "titleFont": "DejaVu Sans", "titleFontSize": 20.5, "titleFontWeight": "normal", "labelColor": "black", "titleColor": "black", "tickColor": "black", "tickWidth": 1.4, "tickSize": 7, "domain": false, "grid": false, "labelPadding": 4, "titlePadding": 6, "labelOverlap": false, "labelFlush": false},
  "axisX": {"titlePadding": 12},
  "axisY": {"labelPadding": 10, "titlePadding": 9},
  "legend": {"labelFont": "DejaVu Sans", "labelFontSize": 18.5, "labelColor": "black", "symbolType": "stroke", "symbolSize": 1521, "labelOffset": 14, "columnPadding": 36, "padding": 0, "labelLimit": 300},
  "title": {"orient": "bottom", "frame": "bounds", "anchor": "middle", "font": "Liberation Serif", "fontSize": 22, "fontWeight": "normal", "color": "black", "offset": 37}
}
}
